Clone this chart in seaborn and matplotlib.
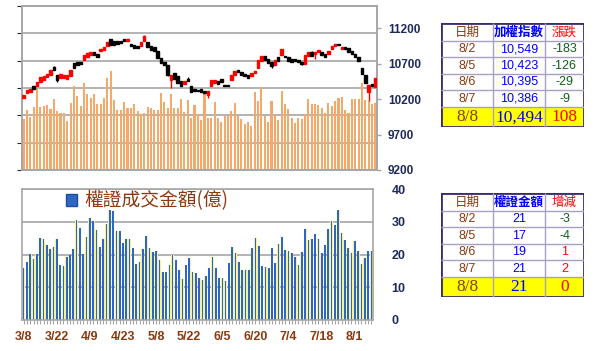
import numpy as np
import matplotlib
matplotlib.use('Agg')
import matplotlib.pyplot as plt
from matplotlib.patches import Patch, Rectangle
import seaborn as sns

# ---------------- data ----------------
tick_labels = ['3/8', '3/22', '4/9', '4/23', '5/8', '5/22', '6/5', '6/20', '7/4', '7/18', '8/1']

# market turnover (orange bars, hidden left axis)
volume = [938, 1093, 969, 1148, 1481, 1154, 1173, 1191, 1123, 1302,
          1080, 1043, 1043, 895, 1222, 1537, 1346, 1173, 1593, 1389,
          1309, 1389, 1204, 1204, 1315, 1685, 1802, 1278, 1105, 1105,
          1247, 1142, 1142, 1204, 1080, 1031, 1049, 1154, 1130, 1105,
          1093, 1407, 1241, 1142, 1389, 1142, 1130, 1296, 1068, 1284,
          944, 1191, 1019, 907, 1420, 957, 957, 1247, 957, 883,
          988, 988, 1080, 1222, 988, 938, 846, 883, 802, 1420,
          1265, 1512, 988, 883, 1265, 1000, 907, 1438, 1204, 1123,
          957, 852, 957, 938, 1019, 1296, 1216, 1204, 1185, 1142,
          1049, 1222, 1173, 1265, 1315, 1327, 1093, 1037, 1296, 1296,
          1296, 1586, 1278, 1265, 1216, 1228]

# TAIEX candles
opens = [10216, 10287, 10301, 10390, 10381, 10442, 10475, 10508, 10545, 10649,
         10536, 10498, 10498, 10489, 10522, 10710, 10724, 10724, 10757, 10795,
         10818, 10865, 10837, 10884, 10894, 10945, 11049, 11025, 11016, 11025,
         11054, 11016, 10978, 10960, 10945, 10945, 11025, 11006, 10945, 10931,
         10875, 10781, 10720, 10687, 10475, 10569, 10522, 10461, 10414, 10489,
         10381, 10348, 10334, 10348, 10320, 10263, 10381, 10428, 10461, 10489,
         10404, 10390, 10475, 10545, 10616, 10578, 10555, 10536, 10522, 10569,
         10640, 10734, 10804, 10771, 10724, 10687, 10790, 10828, 10800, 10790,
         10767, 10767, 10750, 10720, 10696, 10814, 10861, 10837, 10870, 10861,
         10837, 10837, 10908, 10950, 10985, 10908, 10941, 10920, 10880, 10840,
         10790, 10640, 10536, 10301, 10414, 10367]
closes = [10254, 10334, 10348, 10348, 10442, 10508, 10522, 10555, 10606, 10611,
          10470, 10555, 10545, 10536, 10616, 10640, 10677, 10696, 10828, 10851,
          10865, 10828, 10790, 10908, 10931, 11002, 10969, 10960, 10978, 10997,
          11025, 11054, 10945, 10922, 10922, 11006, 11087, 10931, 10898, 10875,
          10781, 10710, 10680, 10545, 10545, 10489, 10428, 10381, 10461, 10451,
          10301, 10320, 10310, 10301, 10287, 10320, 10475, 10475, 10414, 10442,
          10385, 10381, 10545, 10602, 10578, 10545, 10522, 10498, 10569, 10592,
          10757, 10804, 10757, 10710, 10663, 10757, 10734, 10913, 10790, 10743,
          10730, 10745, 10720, 10696, 10828, 10861, 10814, 10870, 10884, 10827,
          10790, 10884, 10955, 10985, 10960, 10941, 10908, 10870, 10840, 10800,
          10732, 10549, 10423, 10395, 10386, 10494]
low_wicks = {10: 10440, 43: 10520, 44: 10357, 55: 10216, 74: 10640, 83: 10677, 87: 10771, 103: 10169}
high_wicks = {9: 10670, 36: 11100, 49: 10508, 86: 10880}

# warrant turnover (億)
warrant = [16, 17.6, 20.3, 18.5, 20.3, 25, 24.6, 23, 21.8, 22.3,
           24.6, 16.8, 16.6, 19.2, 19.8, 21.8, 30.5, 28.1, 20.3, 25.3,
           31.1, 30.2, 27.4, 22.2, 24.6, 29.2, 33.6, 33.2, 27.2, 27.2,
           23.6, 24.6, 24.8, 21.9, 17.2, 17.6, 21.6, 25.7, 22.1, 20.7,
           21, 18.4, 14.8, 14.8, 16.8, 20, 18.2, 15.4, 12.4, 16.8,
           19, 14.7, 14.5, 12.8, 12.3, 13.3, 16, 19.2, 16, 12.9,
           12.9, 12, 17.4, 22.3, 20.6, 17.8, 15.4, 15.3, 15.3, 21.9,
           25, 22.5, 16.6, 16.1, 15.9, 21.9, 17.3, 23.3, 25.2, 21.4,
           21.2, 20.5, 19.1, 16.9, 20.9, 27.8, 24.5, 24.8, 26.2, 24.6,
           20.5, 23, 27.7, 30.3, 29, 33.6, 26.5, 24.3, 21.9, 20.6,
           24, 21, 17, 19, 21, 21]

# side tables
tab_dates = ['8/2', '8/5', '8/6', '8/7', '8/8']
tab_index = ['10,549', '10,423', '10,395', '10,386', '10,494']
tab_index_chg = [-183, -126, -29, -9, 108]
tab_warrant = [21, 17, 19, 21, 21]
tab_warrant_chg = [-3, -4, 1, 2, 0]

# ---------------- style ----------------
sns.set_style('white')
plt.rcParams['font.family'] = ['Liberation Sans', 'Noto Sans CJK TC', 'DejaVu Sans']
CJK = ['Noto Sans CJK TC', 'DejaVu Sans']

grid_c = '#A6A6A6'
label_c = '#1F2A5A'
brown = '#8B3A0F'

W, H = 598, 351
fig = plt.figure(figsize=(W / 100, H / 100), dpi=100)


def box(l, t, r, b):
    return [l / W, 1 - b / H, (r - l) / W, (b - t) / H]


x = np.arange(len(volume))

# ---------------- top panel: turnover + candles ----------------
ax_v = fig.add_axes(box(22, 6, 377, 170))
sns.barplot(x=x, y=volume, color='#F4A96A', width=0.62, native_scale=True,
            saturation=1, errorbar=None, linewidth=0, ax=ax_v)
ax_v.set_xlim(-0.5, len(x) - 0.5)
ax_v.set_ylim(0, 3000)
ax_v.set_yticks(np.arange(0, 3001, 500))
ax_v.yaxis.grid(True, color=grid_c, lw=1.2)
ax_v.set_axisbelow(True)
ax_v.tick_params(left=False, labelleft=False, bottom=False, labelbottom=False)
ax_v.set_xlabel('')
ax_v.set_ylabel('')
for s in ax_v.spines.values():
    s.set_color(grid_c)
    s.set_linewidth(1.2)

ax_p = ax_v.twinx()
o = np.array(opens)
c = np.array(closes)
up = c >= o
body_lo = np.minimum(o, c)
body_h = np.maximum(np.abs(c - o), 20)
colors = np.where(up, '#FF0000', '#000000')
for i, lo in low_wicks.items():
    ax_p.vlines(i, lo, body_lo[i], color=colors[i], lw=1)
for i, hi in high_wicks.items():
    ax_p.vlines(i, body_lo[i] + body_h[i], hi, color=colors[i], lw=1)
ax_p.bar(x, body_h, bottom=body_lo, color=colors, edgecolor=colors, width=0.75,
         linewidth=1.0, zorder=3)
ax_p.set_ylim(9200, 11515)
ax_p.set_yticks(np.arange(9200, 11201, 500))
ax_p.tick_params(axis='y', right=True, length=3, width=1, color=grid_c, pad=5,
                 labelsize=8.5, labelcolor=label_c)
for t in ax_p.get_yticklabels():
    t.set_fontweight('bold')
for s in ax_p.spines.values():
    s.set_color(grid_c)
    s.set_linewidth(1.2)

# ---------------- bottom panel: warrant turnover ----------------
ax_w = fig.add_axes(box(22, 189, 373, 320))
sns.barplot(x=x, y=warrant, color='#F6F29C', width=0.85, native_scale=True,
            saturation=1, errorbar=None, linewidth=0, ax=ax_w)
sns.barplot(x=x, y=warrant, color='#2F66C4', width=0.5, native_scale=True,
            saturation=1, errorbar=None, linewidth=0, ax=ax_w)
ax_w.set_xlim(-0.5, len(x) - 0.5)
ax_w.set_ylim(0, 40)
ax_w.set_yticks(np.arange(0, 41, 10))
ax_w.yaxis.grid(True, color=grid_c, lw=1.2)
ax_w.set_axisbelow(True)
ax_w.yaxis.tick_right()
ax_w.tick_params(axis='y', left=False, right=False, pad=10, labelsize=9, labelcolor=label_c)
xt_labels = [''] * len(x)
for k, lab in enumerate(tick_labels):
    xt_labels[k * 10] = lab
ax_w.set_xticks(x)
ax_w.set_xticklabels(xt_labels)
ax_w.tick_params(axis='x', bottom=True, length=3, width=0.8, color=grid_c, pad=5,
                 labelsize=9, labelcolor=brown)
for t in ax_w.get_xticklabels() + ax_w.get_yticklabels():
    t.set_fontweight('bold')
ax_w.set_xlabel('')
ax_w.set_ylabel('')
for s in ax_w.spines.values():
    s.set_color(grid_c)
    s.set_linewidth(1.2)
ax_w.legend(handles=[Patch(facecolor='#2F66C4', edgecolor='#1F4E99')],
            labels=['權證成交金額(億)'], loc='upper left',
            bbox_to_anchor=(0.125, 0.99), frameon=False, borderpad=0,
            borderaxespad=0, handlelength=0.6, handleheight=0.6,
            handletextpad=0.4, labelcolor=brown,
            prop={'family': CJK, 'size': 13.5})


# ---------------- side tables ----------------
def draw_table(top, headers, head_colors, values, changes):
    tw, th = 143, 104.6
    ax = fig.add_axes(box(441, top, 441 + tw, top + th))
    ax.set_xlim(0, tw)
    ax.set_ylim(th, 0)
    ax.axis('off')
    cols = [0, 52, 104, tw]
    rows = [0, 18, 34.6, 51.3, 67.3, 84.6, th]
    ax.add_patch(Rectangle((0, rows[5]), tw, th - rows[5], color='#FFFF00', lw=0))
    ax.hlines(rows[1:-1], 0, tw, color='#A99FC2', lw=1)
    ax.vlines(cols[1:-1], 0, th, color='#A99FC2', lw=1)
    ax.add_patch(Rectangle((0, 0), tw, th, fill=False, edgecolor='#3B2B6E', lw=2))
    cx = [(cols[j] + cols[j + 1]) / 2 for j in range(3)]
    for j, (h, hc) in enumerate(zip(headers, head_colors)):
        ax.text(cx[j], rows[1] / 2 + 0.5, h, color=hc, ha='center', va='center',
                fontsize=9, family=CJK, fontweight='bold' if j == 1 else 'normal')
    for r in range(5):
        cy = (rows[r + 1] + rows[r + 2]) / 2
        chg = changes[r]
        chg_c = '#0F5F1A' if chg < 0 else '#FF0000'
        last = r == 4
        kw = dict(ha='center', va='center',
                  family='Liberation Serif' if last else 'Liberation Sans',
                  fontsize=12.5 if last else 9)
        ax.text(cx[0], cy, tab_dates[r], color=brown, **kw)
        ax.text(cx[1], cy, str(values[r]), color='#0000FF', **kw)
        ax.text(cx[2], cy, str(chg), color=chg_c, **kw)


draw_table(22.7, ['日期', '加權指數', '漲跌'], [brown, '#0000FF', '#FF0000'],
           tab_index, tab_index_chg)
draw_table(192.7, ['日期', '權證金額', '增減'], [brown, '#0000FF', '#FF0000'],
           tab_warrant, tab_warrant_chg)

fig.savefig('out.png', dpi=100)
